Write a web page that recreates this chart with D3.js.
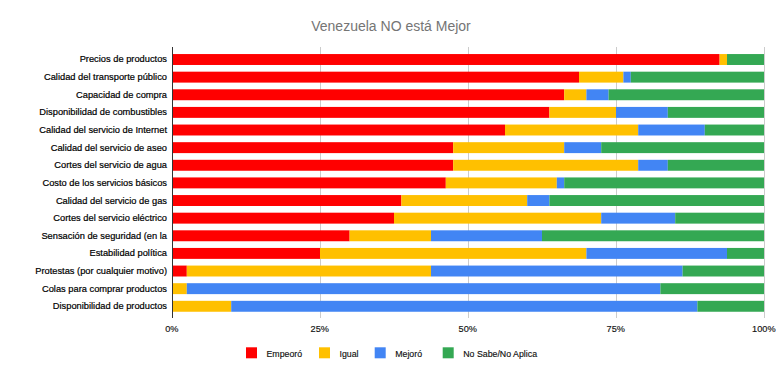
<!DOCTYPE html>
<html>
<head>
<meta charset="utf-8">
<script src="https://cdn.jsdelivr.net/npm/d3@7"></script>
<style>
  body { margin: 0; background: #fff; }
  svg { display: block; font-family: "Liberation Sans", Arial, sans-serif; }
</style>
</head>
<body>
<svg id="chart" width="783" height="377"></svg>
<script>
const title = "Venezuela NO está Mejor";
const categories = [
  "Precios de productos",
  "Calidad del transporte público",
  "Capacidad de compra",
  "Disponibilidad de combustibles",
  "Calidad del servicio de Internet",
  "Calidad del servicio de aseo",
  "Cortes del servicio de agua",
  "Costo de los servicios básicos",
  "Calidad del servicio de gas",
  "Cortes del servicio eléctrico",
  "Sensación de seguridad (en la",
  "Estabilidad política",
  "Protestas (por cualquier motivo)",
  "Colas para comprar productos",
  "Disponibilidad de productos"
];
const seriesNames = ["Empeoró", "Igual", "Mejoró", "No Sabe/No Aplica"];
const seriesColors = ["#ff0000", "#ffc000", "#4285f4", "#34a853"];
const empeoro = [92.5, 68.75, 66.25, 63.75, 56.25, 47.5, 47.5, 46.25, 38.75, 37.5, 30, 25, 2.5, 0, 0];
const igual   = [1.25, 7.5, 3.75, 11.25, 22.5, 18.75, 31.25, 18.75, 21.25, 35, 13.75, 45, 41.25, 2.5, 10];
const mejoro  = [0, 1.25, 3.75, 8.75, 11.25, 6.25, 5, 1.25, 3.75, 12.5, 18.75, 23.75, 42.5, 80, 78.75];
const noSabe  = [6.25, 22.5, 26.25, 16.25, 10, 27.5, 16.25, 33.75, 36.25, 15, 37.5, 6.25, 13.75, 17.5, 11.25];
const tickValues = [0, 0.25, 0.5, 0.75, 1];
const tickLabels = ["0%", "25%", "50%", "75%", "100%"];

(function () {
const seriesData = [empeoro, igual, mejoro, noSabe];
const rows = categories.map((c, i) => {
  const o = { cat: c };
  seriesNames.forEach((s, j) => o[s] = seriesData[j][i]);
  return o;
});

const svg = d3.select("#chart");
const pLeft = 172, pRight = 764, pTop = 50.7, pBottom = 315.1;

const x = d3.scaleLinear().domain([0, 1]).range([pLeft, pRight]);
const y = d3.scaleBand().domain(categories).range([pTop, pBottom]).paddingInner(0.38).paddingOuter(0.19);

const stack = d3.stack().keys(seriesNames).offset(d3.stackOffsetExpand);
const stacked = stack(rows);

// Title
svg.append("text")
  .attr("x", 391).attr("y", 31)
  .attr("text-anchor", "middle")
  .attr("fill", "#757575")
  .style("font-size", "14px")
  .text(title);

// Gridlines
svg.append("g").selectAll("line")
  .data(tickValues.slice(1))
  .join("line")
  .attr("x1", d => Math.round(x(d)) + 0.5).attr("x2", d => Math.round(x(d)) + 0.5)
  .attr("y1", 47).attr("y2", 318)
  .attr("stroke", "#cccccc").attr("stroke-width", 1);

// Bars
svg.append("g").selectAll("g")
  .data(stacked)
  .join("g")
  .attr("fill", (d, i) => seriesColors[i])
  .selectAll("rect")
  .data(d => d.map(v => ({ v, cat: v.data.cat })))
  .join("rect")
  .attr("x", d => x(d.v[0]))
  .attr("width", d => Math.max(0, x(d.v[1]) - x(d.v[0])))
  .attr("y", d => y(d.cat))
  .attr("height", y.bandwidth());

// Baseline axis
svg.append("line")
  .attr("x1", pLeft + 0.5).attr("x2", pLeft + 0.5)
  .attr("y1", 47).attr("y2", 318)
  .attr("stroke", "#333").attr("stroke-width", 1);

// X axis labels
const xAxis = d3.axisBottom(x).tickValues(tickValues)
  .tickFormat((d, i) => tickLabels[i]).tickSize(0).tickPadding(0);
const gx = svg.append("g").attr("transform", `translate(-0.7,${332.3})`).call(xAxis);
gx.select(".domain").remove();
gx.selectAll("text").attr("fill", "#111").attr("dy", 0)
  .attr("stroke", "#111").attr("stroke-width", 0.15)
  .style("font-size", "9.2px").style("font-family", "'Liberation Sans', Arial, sans-serif");

// Y axis labels
const yAxis = d3.axisLeft(y).tickSize(0).tickPadding(0);
const gy = svg.append("g").attr("transform", `translate(167,0)`).call(yAxis);
gy.select(".domain").remove();
gy.selectAll("text").attr("fill", "#000")
  .attr("stroke", "#000").attr("stroke-width", 0.2)
  .style("font-size", "9.3px").style("font-family", "'Liberation Sans', Arial, sans-serif");

// Legend
const legend = svg.append("g");
const legendX = [246, 319, 374.7, 442.7];
const ly = 352.8;
seriesNames.forEach((name, i) => {
  legend.append("rect")
    .attr("x", legendX[i]).attr("y", ly - 5.5).attr("width", 11).attr("height", 11)
    .attr("fill", seriesColors[i]);
  legend.append("text")
    .attr("x", legendX[i] + 20.5).attr("y", ly + 3.9)
    .attr("fill", "#111")
    .attr("stroke", "#111").attr("stroke-width", 0.15)
    .style("font-size", "8.8px")
    .text(name);
});
})();
</script>
</body>
</html>
